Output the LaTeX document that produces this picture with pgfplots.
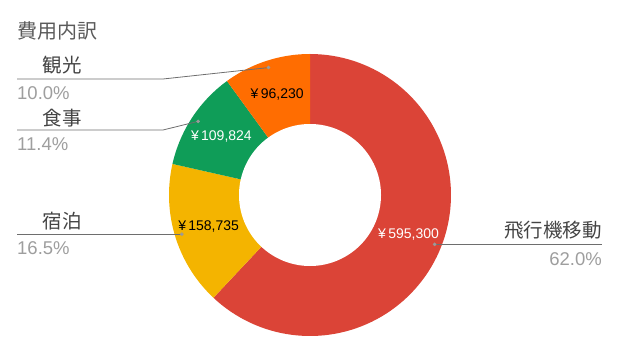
\documentclass[border=0pt]{standalone}
\usepackage{pgfplots}
\pgfplotsset{compat=1.18}
\usepackage{fontspec}
\setmainfont{Liberation Sans}
\newfontfamily\cjk{Noto Sans CJK JP}
\definecolor{cRed}{HTML}{DB4437}
\definecolor{cYel}{HTML}{F4B400}
\definecolor{cGrn}{HTML}{0F9D58}
\definecolor{cOra}{HTML}{FF6D01}
\definecolor{cTitle}{HTML}{5A5A5A}
\definecolor{cLab}{HTML}{444444}
\definecolor{cPct}{HTML}{9E9E9E}
\definecolor{cLine}{HTML}{6E6E6E}
\definecolor{cDot}{HTML}{9A9A9A}
% data (JPY)
\def\vA{595300}% 飛行機移動
\def\vB{158735}% 宿泊
\def\vC{109824}% 食事
\def\vD{96230}%  観光
\edef\tot{\fpeval{\vA+\vB+\vC+\vD}}
\edef\sA{90}
\edef\sB{\fpeval{round(\sA-360*\vA/\tot,4)}}
\edef\sC{\fpeval{round(\sB-360*\vB/\tot,4)}}
\edef\sD{\fpeval{round(\sC-360*\vC/\tot,4)}}
\edef\sE{\fpeval{round(\sD-360*\vD/\tot,4)}}
\edef\mA{\fpeval{(\sA+\sB)/2}}
\edef\mB{\fpeval{(\sB+\sC)/2}}
\edef\mC{\fpeval{(\sC+\sD)/2}}
\edef\mD{\fpeval{(\sD+\sE)/2}}
\def\cx{310}\def\cy{159}
\def\Ro{141}\def\Ri{71}\def\Rl{106}\def\Rd{134}
\newcommand\lx[2]{\fpeval{round(\cx+#2*cosd(#1),3)}}
\newcommand\ly[2]{\fpeval{round(\cy+#2*sind(#1),3)}}
\newcommand\slice[3]{%
  \addplot[fill=#3, draw=none, domain=0:1.02, samples=103, variable=\t]
    ({\cx+((\t<=1.005)?\Ro:0)*cos(#1+(#2-#1)*\t)},
     {\cy+((\t<=1.005)?\Ro:0)*sin(#1+(#2-#1)*\t)});
}
\newcommand\fs[1]{\fontsize{#1bp}{#1bp}\selectfont}
\begin{document}
\begin{tikzpicture}
\begin{axis}[
  width=620bp, height=354bp, scale only axis,
  xmin=0, xmax=620, ymin=0, ymax=354,
  hide axis, clip=false]
\path (axis cs:0,0) (axis cs:620,354);
\slice{\sA}{\sB}{cRed}
\slice{\sB}{\sC}{cYel}
\slice{\sC}{\sD}{cGrn}
\slice{\sD}{\sE}{cOra}
\addplot[fill=white, draw=none, domain=0:360, samples=181]
  ({\cx+\Ri*cos(x)},{\cy+\Ri*sin(x)});
% value labels
\node[text=white, font=\fs{14}] at (axis cs:\lx{\mA}{\Rl},\ly{\mA}{\Rl}) {¥\,595,300};
\node[text=black, font=\fs{14}] at (axis cs:\lx{\mB}{\Rl},\ly{\mB}{\Rl}) {¥\,158,735};
\node[text=white, font=\fs{14}] at (axis cs:\lx{\mC}{\Rl},\ly{\mC}{\Rl}) {¥\,109,824};
\node[text=black, font=\fs{14}] at (axis cs:\lx{\mD}{\Rl},\ly{\mD}{\Rl}) {¥\,96,230};
% leader lines
\draw[cLine, line width=0.8bp] (axis cs:\lx{\mD}{\Rd},\ly{\mD}{\Rd}) -- (axis cs:163,275) -- (axis cs:17,275);
\draw[cLine, line width=0.8bp] (axis cs:\lx{\mC}{\Rd},\ly{\mC}{\Rd}) -- (axis cs:163,224) -- (axis cs:17,224);
\draw[cLine, line width=0.8bp] (axis cs:\lx{\mB}{\Rd},\ly{\mB}{\Rd}) -- (axis cs:17,\ly{\mB}{\Rd});
\draw[cLine, line width=0.8bp] (axis cs:\lx{\mA}{\Rd},\ly{\mA}{\Rd}) -- (axis cs:602,\ly{\mA}{\Rd});
\addplot[only marks, mark=*, mark size=1.6bp, cDot] coordinates {
  (\lx{\mA}{\Rd},\ly{\mA}{\Rd}) (\lx{\mB}{\Rd},\ly{\mB}{\Rd})
  (\lx{\mC}{\Rd},\ly{\mC}{\Rd}) (\lx{\mD}{\Rd},\ly{\mD}{\Rd})};
% texts
\node[anchor=west, text=cTitle, font=\cjk\fs{20}, inner sep=0] at (axis cs:17,323.5) {費用内訳};
\node[text=cLab, font=\cjk\fs{19.5}, inner sep=0] at (axis cs:62,288.5) {観光};
\node[anchor=west, text=cPct, font=\fs{18.5}, inner sep=0] at (axis cs:17,261) {10.0\%};
\node[text=cLab, font=\cjk\fs{19.5}, inner sep=0] at (axis cs:62,236) {食事};
\node[anchor=west, text=cPct, font=\fs{18.5}, inner sep=0] at (axis cs:17,209.5) {11.4\%};
\node[text=cLab, font=\cjk\fs{19.5}, inner sep=0] at (axis cs:62,133) {宿泊};
\node[anchor=west, text=cPct, font=\fs{18.5}, inner sep=0] at (axis cs:17,106) {16.5\%};
\node[anchor=east, text=cLab, font=\cjk\fs{19.5}, inner sep=0] at (axis cs:602,123.5) {飛行機移動};
\node[anchor=east, text=cPct, font=\fs{18.5}, inner sep=0] at (axis cs:602,95) {62.0\%};
\end{axis}
\end{tikzpicture}
\end{document}
